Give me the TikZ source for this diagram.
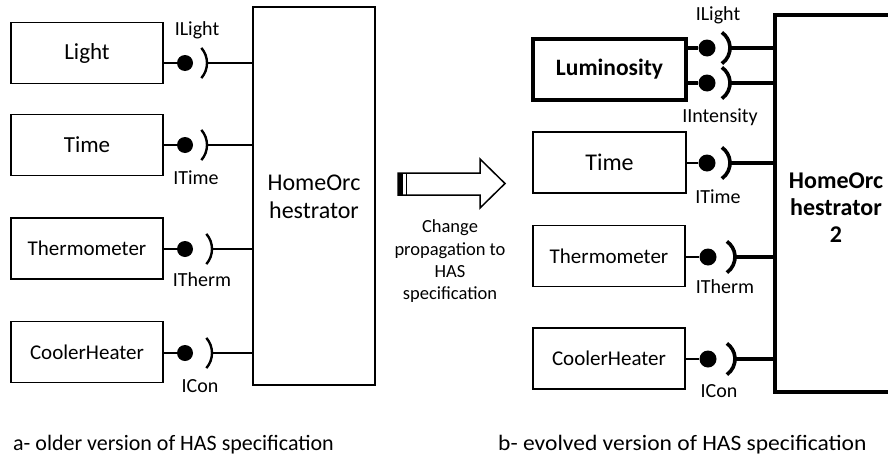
\documentclass[tikz,border=0pt]{standalone}
\usepackage{fontspec}
\setmainfont{Carlito}
\newcommand\fsz[2]{\fontsize{#1}{#2}\selectfont}
\begin{document}
\begin{tikzpicture}[x=1pt,y=-1pt,
  box/.style={draw, line width=1.8pt, inner sep=0pt, minimum width=152pt, minimum height=61pt},
  tbox/.style={box, line width=4pt},
  ball/.style={circle, fill, inner sep=0pt, minimum size=16pt},
  rball/.style={circle, fill, inner sep=0pt, minimum size=17pt},
  wire/.style={line width=2pt},
  rwire/.style={line width=3.2pt},
  sockl/.style={line width=2.4pt},
  sockr/.style={line width=3.6pt},
  lbl/.style={inner sep=0pt, font=\fsz{20}{24}},
  big/.style={font=\fsz{23}{28}},
  mid/.style={font=\fsz{21}{25}},
]
\useasboundingbox (0,0) rectangle (888,463);

% ---------- left: older version ----------
\node[box, big] (light) at (87,53) {Light};
\node[box, big] (time) at (87,145) {Time};
\node[box, mid] (therm) at (87,248.5) {Thermometer};
\node[box, mid] (cool) at (87,352) {CoolerHeater};
\node[draw, line width=1.8pt, inner sep=0pt, minimum width=122pt, minimum height=378pt] (orch) at (314,196) {};
\node[align=center, font=\fsz{24}{28}] (orchtxt) at (314,196.5) {HomeOrc\\hestrator};

% Light
\node[ball] (bl) at (185,63) {};
\coordinate (sl) at (184,63);
\draw[wire] (bl -| light.east) -- (bl);
\draw[sockl] (sl) ++(-41:23pt) arc[start angle=-41, end angle=41, radius=23pt];
\draw[wire] ([xshift=23pt]sl) -- (sl -| orch.west);
\node[lbl] (lil) at (197,30) {ILight};
% Time
\node[ball] (bt) at (185,145) {};
\coordinate (st) at (184,145);
\draw[wire] (bt -| time.east) -- (bt);
\draw[sockl] (st) ++(-41:23pt) arc[start angle=-41, end angle=41, radius=23pt];
\draw[wire] ([xshift=23pt]st) -- (st -| orch.west);
\node[lbl] (lit) at (196,178) {ITime};
% Therm
\node[ball] (bth) at (185,249) {};
\coordinate (sth) at (189,249);
\draw[wire] (bth -| therm.east) -- (bth);
\draw[sockl] (sth) ++(-41:23pt) arc[start angle=-41, end angle=41, radius=23pt];
\draw[wire] ([xshift=23pt]sth) -- (sth -| orch.west);
\node[lbl] (lith) at (202,280) {ITherm};
% Cooler
\node[ball] (bc) at (185,353) {};
\coordinate (sc) at (189,353);
\draw[wire] (bc -| cool.east) -- (bc);
\draw[sockl] (sc) ++(-41:23pt) arc[start angle=-41, end angle=41, radius=23pt];
\draw[wire] ([xshift=23pt]sc) -- (sc -| orch.west);
\node[lbl] (lic) at (200,386) {ICon};

% ---------- arrow ----------
\draw[line width=1.5pt, line join=miter] (398,173) -- (480,173) -- (480,159) -- (505,183.5) -- (480,208) -- (480,195) -- (398,195) -- cycle;
\fill (398,173) rectangle (403,195);
\draw[line width=1pt] (406,173) -- (406,195);
\node[align=center, font=\fsz{18.5}{22.3}] (chg) at (450,261.5) {Change\\propagation to\\HAS\\specification};

% ---------- right: evolved version ----------
\coordinate (o2t) at (775,15);
\coordinate (o2b) at (775,392);
\draw[line width=4.5pt, line join=miter] (888,15) -- (o2t) -- (o2b) -- (888,392);
\node[align=center, font=\bfseries\fsz{24}{27}] (orch2) at (836,207.5) {HomeOrc\\hestrator\\2};

\node[tbox, font=\bfseries\fsz{23.5}{28}, minimum width=153pt] (lum) at (609.5,69.5) {Luminosity};
\node[box, font=\fsz{24}{28}, minimum width=153pt] (time2) at (609.5,162.5) {Time};
\node[box, mid] (therm2) at (609,256) {Thermometer};
\node[box, mid] (cool2) at (609,358.5) {CoolerHeater};

% ILight
\node[rball] (rbl) at (707,48) {};
\coordinate (rsl) at (711,48);
\draw[rwire] (rbl -| lum.east) -- (rbl);
\draw[sockr] (rsl) ++(-55:19pt) arc[start angle=-55, end angle=55, radius=19pt];
\draw[rwire] ([xshift=19pt]rsl) -- (rsl -| o2t);
\node[lbl] (rlil) at (718,15) {ILight};
% IIntensity
\node[rball] (rbi) at (707,83) {};
\coordinate (rsi) at (711,83);
\draw[rwire] (rbi -| lum.east) -- (rbi);
\draw[sockr] (rsi) ++(-55:19pt) arc[start angle=-55, end angle=55, radius=19pt];
\draw[rwire] ([xshift=19pt]rsi) -- (rsi -| o2t);
\node[lbl] (rlii) at (720,117) {IIntensity};
% Time
\node[rball] (rbt) at (707,163) {};
\coordinate (rst) at (711,163);
\draw[wire] (rbt -| time2.east) -- (rbt);
\draw[sockr] (rst) ++(-55:19pt) arc[start angle=-55, end angle=55, radius=19pt];
\draw[rwire] ([xshift=19pt]rst) -- (rst -| o2t);
\node[lbl] (rlit) at (718,197) {ITime};
% Therm
\node[rball] (rbth) at (708,257) {};
\coordinate (rsth) at (716,257);
\draw[wire] (rbth -| therm2.east) -- (rbth);
\draw[sockr] (rsth) ++(-55:19pt) arc[start angle=-55, end angle=55, radius=19pt];
\draw[rwire] ([xshift=19pt]rsth) -- (rsth -| o2t);
\node[lbl] (rlith) at (725,287) {ITherm};
% Cooler
\node[rball] (rbc) at (708,359) {};
\coordinate (rsc) at (716,359);
\draw[wire] (rbc -| cool2.east) -- (rbc);
\draw[sockr] (rsc) ++(-55:19pt) arc[start angle=-55, end angle=55, radius=19pt];
\draw[rwire] ([xshift=19pt]rsc) -- (rsc -| o2t);
\node[lbl] (rlic) at (719,391) {ICon};

% ---------- captions ----------
\node[anchor=base west, inner sep=0pt, font=\fsz{22}{26}] (capa) at (13,450) {a- older version of HAS specification};
\node[anchor=base west, inner sep=0pt, font=\fsz{22}{26}] (capb) at (498,450) {\scalebox{1.07}[1]{b- evolved version of HAS specification}};
\end{tikzpicture}
\end{document}
